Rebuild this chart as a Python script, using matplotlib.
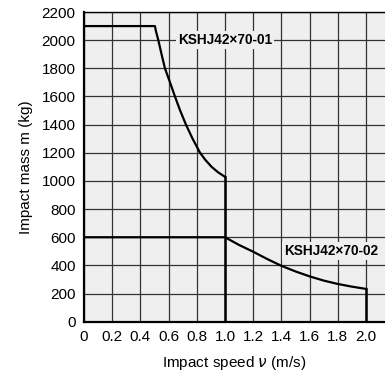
import matplotlib.pyplot as plt

plt.rcParams['font.family'] = ['Liberation Sans', 'DejaVu Sans']

# KSHJ42x70-01 : flat then falling curve
v1 = [0.0, 0.503, 0.51, 0.527, 0.55, 0.574, 0.605, 0.645, 0.68, 0.723, 0.77,
      0.823, 0.86, 0.905, 0.95, 1.0]
m1 = [2100, 2100, 2065, 2000, 1900, 1800, 1714, 1600, 1505, 1400, 1300,
      1200, 1150, 1100, 1062, 1029]

# KSHJ42x70-02
v2 = [0.0, 1.0, 1.1, 1.2, 1.3, 1.4, 1.5, 1.6, 1.7, 1.8, 1.9, 2.0]
m2 = [600, 600, 545, 497, 445, 397, 357, 322, 292, 268, 249, 233]

xticks = [0, 0.2, 0.4, 0.6, 0.8, 1.0, 1.2, 1.4, 1.6, 1.8, 2.0]
xlabels = ['0', '0.2', '0.4', '0.6', '0.8', '1.0', '1.2', '1.4', '1.6', '1.8', '2.0']
yticks = list(range(0, 2201, 200))

fig = plt.figure(figsize=(3.85, 3.74), dpi=100)
ax = fig.add_axes([84/385, 1 - 321.7/374, 1 - 84/385, (321.7 - 12)/374])
ax.set_facecolor('#efefef')

ax.set_xlim(0, (385 - 84) / 141.0)
ax.set_ylim(0, 2200)
ax.set_xticks(xticks)
ax.set_xticklabels(xlabels)
ax.set_yticks(yticks)
ax.tick_params(length=0, labelsize=11, pad=6)
ax.grid(True, color='#333333', lw=0.9)
ax.set_axisbelow(True)

for s in ['left', 'bottom']:
    ax.spines[s].set_linewidth(1.6)
ax.spines['top'].set_linewidth(1.0)
ax.spines['right'].set_visible(False)

ax.plot(v1, m1, color='black', lw=1.6)
ax.plot([1.0, 1.0], [m1[-1], 0], color='black', lw=1.8)
ax.plot(v2, m2, color='black', lw=1.6)
ax.plot([2.0, 2.0], [m2[-1], 0], color='black', lw=1.8)

box = dict(facecolor='#efefef', edgecolor='none', pad=1.5)
ax.text(1.0, 2000, 'KSHJ42×70-01', ha='center', va='center', fontsize=9.8,
        fontweight='bold', bbox=box)
ax.text(1.75, 500, 'KSHJ42×70-02', ha='center', va='center', fontsize=9.8,
        fontweight='bold', bbox=box)

ax.set_ylabel('Impact mass m (kg)', fontsize=11, labelpad=6)
ax.set_xlabel(r'Impact speed $\nu$ (m/s)', fontsize=11, labelpad=7)

fig.savefig('out.png', dpi=100)
